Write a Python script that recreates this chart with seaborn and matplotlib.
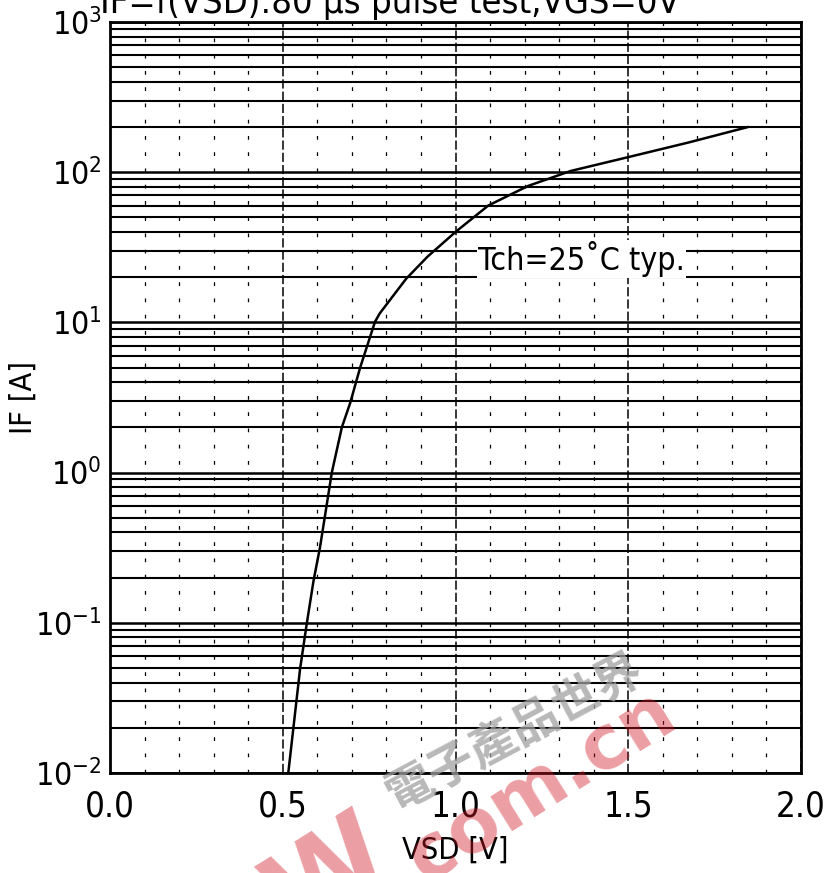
import numpy as np
import matplotlib
matplotlib.use('Agg')
import matplotlib.pyplot as plt
import matplotlib.ticker as mticker
import seaborn as sns

# curve (Tch = 25 C, typ.)
vsd = [0.516, 0.550, 0.569, 0.589, 0.608, 0.642, 0.671, 0.695, 0.724, 0.767,
       0.781, 0.857, 0.919, 1.000, 1.095, 1.210, 1.334, 1.500, 1.676, 1.847]
i_f = [0.01, 0.049, 0.097, 0.19, 0.32, 1.0, 2.0, 2.9, 5.0, 10.1,
       11.5, 19.5, 27.4, 40.0, 60.0, 81.0, 102.0, 126.0, 158.0, 200.0]

x_ticks = [0.0, 0.5, 1.0, 1.5, 2.0]
x_tick_labels = ['0.0', '0.5', '1.0', '1.5', '2.0']
y_decades = [-2, -1, 0, 1, 2, 3]

title = 'IF=f(VSD):80 \u03bcs pulse test,VGS=0V'
annotation = 'Tch=25\u02daC typ.'

sns.set_style('white')
plt.rcParams['font.family'] = ['DejaVu Sans']
plt.rcParams['font.stretch'] = 'condensed'
for k in ['text.color', 'axes.labelcolor', 'xtick.color', 'ytick.color']:
    plt.rcParams[k] = 'black'

W, H = 827, 873
fig = plt.figure(figsize=(W / 100, H / 100), dpi=100)
ax = fig.add_axes([110 / W, 1 - 773 / H, (801 - 110) / W, (773 - 22) / H])

sns.lineplot(x=vsd, y=i_f, color='black', linewidth=1.8, ax=ax, zorder=5)

ax.set_yscale('log')
ax.set_xlim(0, 2.0)
ax.set_ylim(1e-2, 1e3)

# grid: every log minor line solid, voltage lines dashed
ax.yaxis.set_major_locator(mticker.FixedLocator([10.0 ** d for d in y_decades]))
ax.yaxis.set_minor_locator(mticker.LogLocator(base=10, subs=np.arange(2, 10)))
ax.yaxis.set_minor_formatter(mticker.NullFormatter())
ax.yaxis.set_major_formatter(mticker.FuncFormatter(
    lambda v, p: r'$\mathregular{10^{%d}}$' % round(np.log10(v))))
ax.xaxis.set_major_locator(mticker.FixedLocator(x_ticks))
ax.xaxis.set_major_formatter(mticker.FixedFormatter(x_tick_labels))
ax.xaxis.set_minor_locator(mticker.MultipleLocator(0.1))

ax.grid(which='major', axis='y', color='black', linestyle='-', linewidth=1.8)
ax.grid(which='minor', axis='y', color='black', linestyle='-', linewidth=1.5)
ax.grid(which='major', axis='x', color='black', linestyle=(0, (6, 2)), linewidth=1.1)
ax.grid(which='minor', axis='x', color='black', linestyle=(0, (3, 10)), linewidth=0.9)
ax.set_axisbelow(True)

for s in ax.spines.values():
    s.set_color('black')
    s.set_linewidth(2)

ax.tick_params(which='both', length=0)
ax.tick_params(axis='x', labelsize=25, pad=12)
ax.tick_params(axis='y', labelsize=23, pad=6)

ax.set_xlabel('VSD [V]', fontsize=22, labelpad=9)
ax.set_ylabel('IF [A]', fontsize=22)
ax.yaxis.set_label_coords(-0.105, 0.5)

ax.text(1.065, 22.3, annotation, fontsize=23, ha='left', va='baseline', zorder=6,
        bbox=dict(facecolor='white', edgecolor='none', pad=1))

# title, partly cut at the top edge as in the scan
fig.text(100 / W, 1 - 13 / H, title, fontsize=26, ha='left', va='baseline')

# site watermark
wm_red = (0.82, 0.1, 0.15)
fig.text(398 / W, 1 - 866 / H, 'EEPW', fontsize=80, fontweight='bold',
         color=wm_red, alpha=0.42, fontstretch='normal',
         rotation=32, rotation_mode='anchor', ha='right', va='baseline', zorder=10)
fig.text(680 / W, 1 - 722 / H, '.com.cn', fontsize=54, fontweight='bold',
         color=wm_red, alpha=0.42, fontstretch='normal',
         rotation=32, rotation_mode='anchor', ha='right', va='baseline', zorder=10)
fig.text(515 / W, 1 - 733 / H, '電子產品世界', fontsize=34, fontweight='bold',
         family=['Noto Sans CJK TC', 'DejaVu Sans'], color='#a0a0a0', alpha=0.75,
         rotation=28, rotation_mode='anchor', ha='center', va='center', zorder=10)

fig.savefig('out.png', dpi=100)
